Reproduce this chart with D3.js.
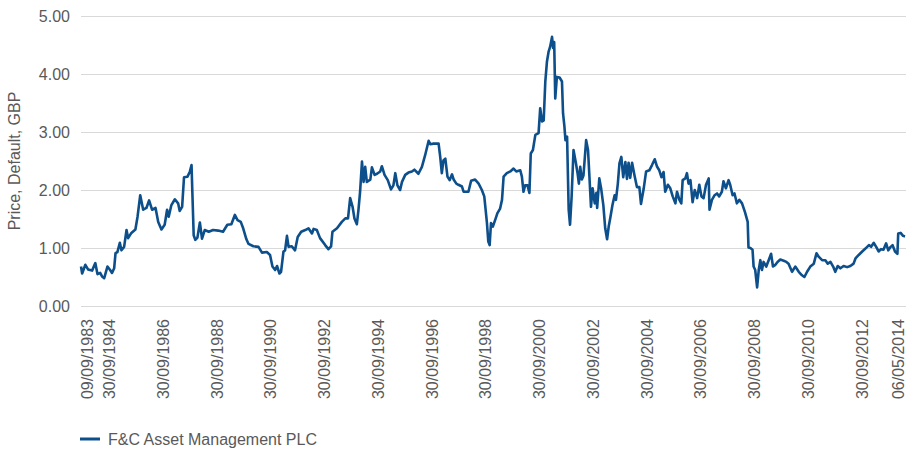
<!DOCTYPE html>
<html>
<head>
<meta charset="utf-8">
<script src="https://cdn.jsdelivr.net/npm/d3@7"></script>
<style>
  body { margin: 0; background: #fff; }
  svg text { font-family: "Liberation Sans", Arial, Helvetica, sans-serif; fill: #595959; }
</style>
</head>
<body>
<main></main>
<script>
// Data (dates as decimal years, price in GBP)
let seriesName = "F&C Asset Management PLC";
let yTitle = "Price, Default, GBP";

let years = [
  1983.688, 1983.73, 1983.85, 1983.95, 1984.10, 1984.22, 1984.30, 1984.40, 1984.47, 1984.55,
  1984.67, 1984.77, 1984.84, 1984.92, 1984.97, 1985.04, 1985.13, 1985.19, 1985.29, 1985.38,
  1985.44, 1985.56, 1985.71, 1985.79, 1985.89, 1986.00, 1986.12, 1986.22, 1986.33, 1986.46,
  1986.56, 1986.68, 1986.80, 1986.89, 1986.95, 1987.05, 1987.18, 1987.30, 1987.36, 1987.45,
  1987.52, 1987.65, 1987.74, 1987.80, 1987.83, 1987.88, 1987.94, 1988.02, 1988.11, 1988.19,
  1988.29, 1988.44, 1988.60, 1988.79, 1988.97, 1989.13, 1989.28, 1989.41, 1989.51, 1989.63,
  1989.72, 1989.84, 1989.92, 1990.10, 1990.29, 1990.42, 1990.60, 1990.72, 1990.81, 1990.91,
  1990.98, 1991.07, 1991.13, 1991.22, 1991.28, 1991.35, 1991.41, 1991.53, 1991.65, 1991.75,
  1991.88, 1992.03, 1992.15, 1992.28, 1992.34, 1992.46, 1992.58, 1992.77, 1992.89, 1992.99,
  1993.04, 1993.21, 1993.39, 1993.52, 1993.62, 1993.70, 1993.79, 1993.86, 1993.95, 1994.01,
  1994.07, 1994.14, 1994.20, 1994.26, 1994.32, 1994.45, 1994.51, 1994.61, 1994.70, 1994.82,
  1994.88, 1994.98, 1995.10, 1995.22, 1995.31, 1995.38, 1995.46, 1995.56, 1995.63, 1995.75,
  1995.87, 1996.00, 1996.09, 1996.24, 1996.37, 1996.49, 1996.62, 1996.68, 1996.80, 1996.99,
  1997.05, 1997.11, 1997.17, 1997.24, 1997.32, 1997.40, 1997.49, 1997.55, 1997.65, 1997.73,
  1997.86, 1997.92, 1998.10, 1998.20, 1998.35, 1998.48, 1998.60, 1998.69, 1998.74, 1998.79,
  1998.84, 1998.89, 1998.94, 1999.01, 1999.10, 1999.18, 1999.28, 1999.35, 1999.41, 1999.53,
  1999.66, 1999.78, 1999.88, 2000.03, 2000.09, 2000.15, 2000.21, 2000.30, 2000.37, 2000.42,
  2000.50, 2000.59, 2000.71, 2000.77, 2000.84, 2000.90, 2000.96, 2001.02, 2001.08, 2001.14,
  2001.21, 2001.25, 2001.29, 2001.33, 2001.39, 2001.49, 2001.58, 2001.62, 2001.67, 2001.71,
  2001.77, 2001.83, 2001.88, 2001.94, 2002.01, 2002.10, 2002.16, 2002.21, 2002.26, 2002.32,
  2002.38, 2002.48, 2002.55, 2002.60, 2002.66, 2002.72, 2002.80, 2002.86, 2002.89, 2002.97,
  2003.04, 2003.12, 2003.19, 2003.26, 2003.32, 2003.38, 2003.46, 2003.54, 2003.59, 2003.66,
  2003.72, 2003.79, 2003.86, 2003.94, 2004.00, 2004.06, 2004.12, 2004.19, 2004.28, 2004.37,
  2004.46, 2004.52, 2004.62, 2004.71, 2004.83, 2004.93, 2005.03, 2005.12, 2005.20, 2005.28,
  2005.36, 2005.42, 2005.52, 2005.61, 2005.70, 2005.80, 2005.86, 2005.95, 2006.02, 2006.07,
  2006.17, 2006.23, 2006.29, 2006.36, 2006.44, 2006.52, 2006.61, 2006.69, 2006.77, 2006.85,
  2006.94, 2007.04, 2007.07, 2007.16, 2007.26, 2007.35, 2007.43, 2007.53, 2007.59, 2007.68,
  2007.78, 2007.84, 2007.93, 2008.00, 2008.09, 2008.18, 2008.28, 2008.38, 2008.40, 2008.49,
  2008.52, 2008.59, 2008.67, 2008.71, 2008.77, 2008.84, 2008.90, 2008.96, 2009.02, 2009.08,
  2009.18, 2009.27, 2009.36, 2009.43, 2009.52, 2009.60, 2009.70, 2009.83, 2009.93, 2010.01,
  2010.14, 2010.26, 2010.39, 2010.51, 2010.60, 2010.70, 2010.82, 2010.95, 2011.05, 2011.13,
  2011.26, 2011.38, 2011.47, 2011.57, 2011.67, 2011.75, 2011.84, 2011.94, 2012.06, 2012.19,
  2012.31, 2012.43, 2012.50, 2012.62, 2012.75, 2012.87, 2013.00, 2013.08, 2013.18, 2013.28,
  2013.36, 2013.45, 2013.54, 2013.64, 2013.72, 2013.81, 2013.88, 2013.97, 2014.06, 2014.09,
  2014.18, 2014.27, 2014.343
];

let prices = [
  0.68, 0.56, 0.71, 0.63, 0.61, 0.74, 0.55, 0.57, 0.51, 0.48,
  0.68, 0.62, 0.57, 0.65, 0.91, 0.93, 1.09, 0.96, 1.02, 1.31,
  1.17, 1.26, 1.32, 1.54, 1.91, 1.66, 1.69, 1.82, 1.66, 1.69,
  1.45, 1.32, 1.40, 1.66, 1.54, 1.74, 1.84, 1.77, 1.64, 1.71,
  2.22, 2.23, 2.32, 2.43, 1.97, 1.22, 1.14, 1.18, 1.44, 1.16,
  1.31, 1.28, 1.31, 1.30, 1.28, 1.40, 1.41, 1.57, 1.48, 1.45,
  1.34, 1.15, 1.07, 1.03, 1.02, 0.92, 0.93, 0.88, 0.68, 0.62,
  0.69, 0.56, 0.59, 0.94, 0.96, 1.21, 1.02, 1.03, 0.96, 1.19,
  1.28, 1.31, 1.34, 1.25, 1.33, 1.31, 1.17, 1.05, 0.98, 1.03,
  1.28, 1.34, 1.45, 1.51, 1.51, 1.86, 1.71, 1.51, 1.41, 1.66,
  1.97, 2.49, 2.14, 2.40, 2.14, 2.18, 2.39, 2.26, 2.28, 2.32,
  2.41, 2.26, 2.17, 2.01, 2.08, 2.29, 2.08, 2.00, 2.14, 2.26,
  2.30, 2.32, 2.35, 2.28, 2.40, 2.60, 2.85, 2.79, 2.80, 2.80,
  2.57, 2.29, 2.51, 2.54, 2.23, 2.17, 2.27, 2.18, 2.11, 2.09,
  2.06, 1.97, 1.97, 2.16, 2.18, 2.11, 2.00, 1.89, 1.66, 1.43,
  1.11, 1.05, 1.43, 1.37, 1.49, 1.60, 1.68, 1.83, 2.23, 2.29,
  2.32, 2.37, 2.32, 2.34, 2.23, 1.97, 2.08, 2.08, 1.95, 2.63,
  2.69, 2.95, 2.98, 3.41, 3.18, 3.20, 3.87, 4.21, 4.38, 4.47,
  4.64, 4.45, 4.55, 3.58, 3.95, 3.94, 3.87, 3.32, 3.10, 2.86,
  2.92, 1.66, 1.40, 1.89, 2.69, 2.46, 2.29, 2.11, 2.40, 2.18,
  2.25, 2.86, 2.69, 2.25, 1.71, 2.03, 1.77, 1.95, 1.69, 2.20,
  2.02, 1.74, 1.34, 1.15, 1.37, 1.52, 1.74, 1.91, 1.83, 2.11,
  2.46, 2.57, 2.22, 2.48, 2.19, 2.47, 2.21, 2.47, 2.25, 2.05,
  2.05, 1.76, 2.02, 2.32, 2.34, 2.43, 2.53, 2.40, 2.34, 2.22,
  2.31, 1.97, 2.09, 2.03, 1.89, 1.77, 1.97, 1.83, 1.77, 2.17,
  2.20, 2.29, 2.11, 2.17, 1.79, 2.00, 1.86, 2.09, 1.89, 1.86,
  2.09, 2.20, 1.66, 1.83, 1.91, 1.94, 1.89, 1.97, 2.15, 2.03,
  2.17, 2.09, 1.91, 1.94, 1.77, 1.83, 1.77, 1.63, 1.60, 1.45,
  1.01, 1.00, 0.97, 0.68, 0.62, 0.32, 0.62, 0.79, 0.62, 0.76,
  0.68, 0.79, 0.90, 0.68, 0.71, 0.76, 0.80, 0.78, 0.76, 0.73,
  0.59, 0.68, 0.59, 0.53, 0.50, 0.59, 0.68, 0.73, 0.91, 0.85,
  0.79, 0.79, 0.73, 0.76, 0.68, 0.59, 0.69, 0.65, 0.69, 0.67,
  0.69, 0.73, 0.82, 0.88, 0.94, 0.99, 1.05, 1.02, 1.09, 1.01,
  0.94, 0.98, 0.97, 1.08, 0.96, 1.02, 1.05, 0.94, 0.90, 1.25,
  1.26, 1.21, 1.20
];

let startDate = "09/09/1983";
let endDate = "06/05/2014";
let xTickLabels = [
  "09/09/1983", "30/09/1984", "30/09/1986", "30/09/1988", "30/09/1990",
  "30/09/1992", "30/09/1994", "30/09/1996", "30/09/1998", "30/09/2000",
  "30/09/2002", "30/09/2004", "30/09/2006", "30/09/2008", "30/09/2010",
  "30/09/2012", "06/05/2014"
];
let yTicks = [0, 1, 2, 3, 4, 5];

// helpers
let parseDate = d3.timeParse("%d/%m/%Y");
function yearToDate(y) {
  let yr = Math.floor(y);
  let a = new Date(yr, 0, 1);
  let b = new Date(yr + 1, 0, 1);
  return new Date(+a + (y - yr) * (b - a));
}
let points = years.map((y, i) => ({ date: yearToDate(y), value: prices[i] }));

// Chart
let width = 906, height = 450;
let plotLeft = 81, plotRight = 905, plotTop = 16, plotBottom = 306;

let svg = d3.select('main')
  .append('svg')
  .attr('width', width)
  .attr('height', height);

let x = d3.scaleTime()
  .domain([parseDate(startDate), parseDate(endDate)])
  .range([plotLeft, plotRight]);

let y = d3.scaleLinear()
  .domain([0, 5])
  .range([plotBottom, plotTop]);

// gridlines
svg.append('g')
  .selectAll('line')
  .data(yTicks)
  .join('line')
  .attr('x1', plotLeft)
  .attr('x2', width)
  .attr('y1', d => y(d) + 0.5)
  .attr('y2', d => y(d) + 0.5)
  .attr('stroke', '#d9d9d9')
  .attr('stroke-width', 1);

// y labels
svg.append('g')
  .selectAll('text')
  .data(yTicks)
  .join('text')
  .attr('x', 70)
  .attr('y', d => y(d))
  .attr('dy', '0.35em')
  .attr('text-anchor', 'end')
  .style('font-size', '16px')
  .text(d => d3.format('.2f')(d));

// y title
svg.append('text')
  .attr('transform', 'translate(20,' + ((plotTop + plotBottom) / 2) + ') rotate(-90)')
  .attr('text-anchor', 'middle')
  .style('font-size', '16px')
  .text(yTitle);

// x labels (kept inside the picture at both ends)
svg.append('g')
  .selectAll('text')
  .data(xTickLabels)
  .join('text')
  .attr('transform', d => {
    let px = Math.max(87, Math.min(898, x(parseDate(d))));
    return 'translate(' + px + ',319) rotate(-90)';
  })
  .attr('dy', '0.35em')
  .attr('text-anchor', 'end')
  .style('font-size', '16px')
  .text(d => d);

// price line
let line = d3.line()
  .x(d => x(d.date))
  .y(d => y(d.value));

svg.append('path')
  .datum(points)
  .attr('d', line)
  .attr('fill', 'none')
  .attr('stroke', '#0d4f8b')
  .attr('stroke-width', 2.6)
  .attr('stroke-linejoin', 'round');

// legend
svg.append('line')
  .attr('x1', 80)
  .attr('x2', 100)
  .attr('y1', 439)
  .attr('y2', 439)
  .attr('stroke', '#0d4f8b')
  .attr('stroke-width', 3);

svg.append('text')
  .attr('x', 108)
  .attr('y', 439)
  .attr('dy', '0.35em')
  .style('font-size', '16px')
  .text(seriesName);
</script>
</body>
</html>
